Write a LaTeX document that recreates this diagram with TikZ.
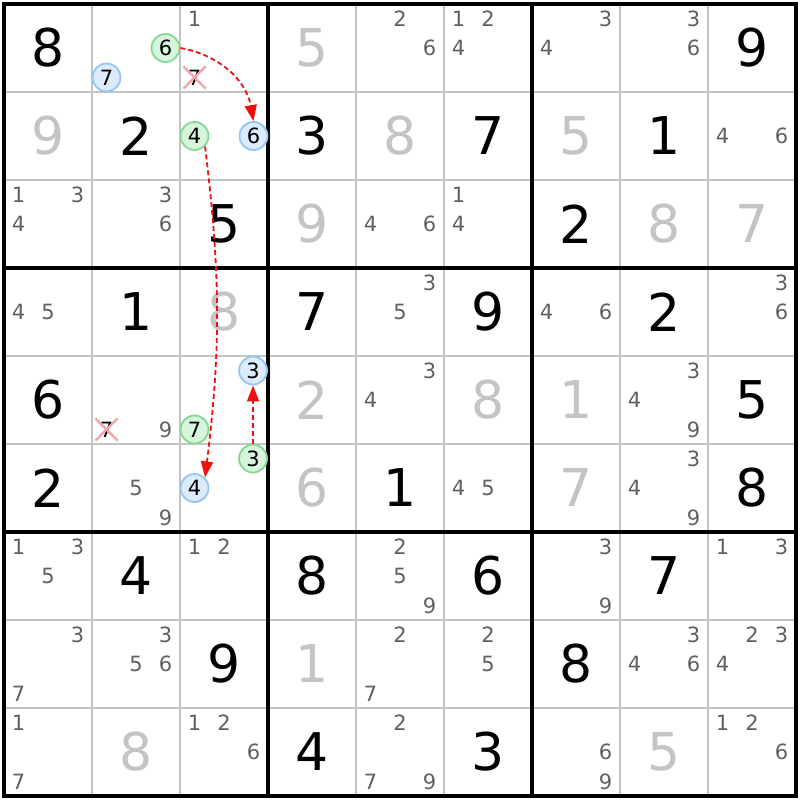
\documentclass[tikz,border=0pt]{standalone}
\usepackage{fontspec}
\setmainfont{DejaVu Sans}
\usepackage{xcolor}
\usetikzlibrary{arrows.meta, shapes.misc}
\definecolor{pale}{HTML}{C4C4C4}
\definecolor{pencil}{HTML}{606060}
\definecolor{onfill}{HTML}{D7F4DC}
\definecolor{online}{HTML}{86D694}
\definecolor{offfill}{HTML}{DCEBFD}
\definecolor{offline}{HTML}{92C6F4}
\definecolor{strike}{HTML}{F4A3AB}
\definecolor{linkred}{HTML}{F01010}

\begin{document}
\begin{tikzpicture}[x=44pt, y=44pt, >={Triangle[length=8pt, width=6pt]}]
    \tikzstyle{given} = [text=pale, font=\fontsize{26}{26}\selectfont]
    \tikzstyle{solved} = [text=black, font=\fontsize{26}{26}\selectfont]
    \tikzstyle{cand} = [text=pencil, font=\fontsize{10.5}{10.5}\selectfont]
    \tikzstyle{oncand} = [cand, text=black, circle, draw=online, fill=onfill,
        line width=0.9pt, minimum size=14pt, inner sep=0pt]
    \tikzstyle{offcand} = [oncand, draw=offline, fill=offfill]
    \tikzstyle{crossed} = [cand, text=black, cross out, draw=strike,
        line width=1.1pt, minimum size=10pt, inner sep=0pt]
    \tikzstyle{linkarrow} = [->, color=linkred, line width=0.9pt,
        dash pattern=on 2.5pt off 1.5pt]
    \useasboundingbox (-0.0455,-0.0455) rectangle (9.0455,9.0455);
    \fill[white] (-0.0455,-0.0455) rectangle (9.0455,9.0455);
    % grid
    \foreach \i in {1,2,4,5,7,8} {
        \draw[pale, line width=0.75pt] (\i,0) -- (\i,9);
        \draw[pale, line width=0.75pt] (0,\i) -- (9,\i);
    }
    \foreach \i in {3,6} {
        \draw[line width=1.6pt] (\i,0) -- (\i,9);
        \draw[line width=1.6pt] (0,\i) -- (9,\i);
    }
    \draw[line width=1.6pt] (0,0) rectangle (9,9);
    % digits
    \foreach \r/\c/\d in {1/4/5, 2/1/9, 2/5/8, 2/7/5, 3/4/9, 3/8/8, 3/9/7,
        4/3/8, 5/4/2, 5/6/8, 5/7/1, 6/4/6, 6/7/7, 8/4/1, 9/2/8, 9/8/5}
        \node[given] (g\r\c) at (\c-0.5, 9.5-\r) {\d};
    \foreach \r/\c/\d in {1/1/8, 1/9/9, 2/2/2, 2/4/3, 2/6/7, 2/8/1, 3/3/5,
        3/7/2, 4/2/1, 4/4/7, 4/6/9, 4/8/2, 5/1/6, 5/9/5, 6/1/2, 6/5/1, 6/9/8,
        7/2/4, 7/4/8, 7/6/6, 7/8/7, 8/3/9, 8/7/8, 9/4/4, 9/6/3}
        \node[solved] (s\r\c) at (\c-0.5, 9.5-\r) {\d};
    % pencil marks
    \foreach \r/\c/\d in {1/3/1, 1/5/2, 1/5/6, 1/6/1, 1/6/2, 1/6/4, 1/7/3,
        1/7/4, 1/8/3, 1/8/6, 2/9/4, 2/9/6, 3/1/1, 3/1/3, 3/1/4, 3/2/3, 3/2/6,
        3/5/4, 3/5/6, 3/6/1, 3/6/4, 4/1/4, 4/1/5, 4/5/3, 4/5/5, 4/7/4, 4/7/6,
        4/9/3, 4/9/6, 5/2/9, 5/5/3, 5/5/4, 5/8/3, 5/8/4, 5/8/9, 6/2/5, 6/2/9,
        6/6/4, 6/6/5, 6/8/3, 6/8/4, 6/8/9, 7/1/1, 7/1/3, 7/1/5, 7/3/1, 7/3/2,
        7/5/2, 7/5/5, 7/5/9, 7/7/3, 7/7/9, 7/9/1, 7/9/3, 8/1/3, 8/1/7, 8/2/3,
        8/2/5, 8/2/6, 8/5/2, 8/5/7, 8/6/2, 8/6/5, 8/8/3, 8/8/4, 8/8/6, 8/9/2,
        8/9/3, 8/9/4, 9/1/1, 9/1/7, 9/3/1, 9/3/2, 9/3/6, 9/5/2, 9/5/7, 9/5/9,
        9/7/6, 9/7/9, 9/9/1, 9/9/2, 9/9/6} {
        \pgfmathsetmacro\px{\c-0.5+0.335*(mod(\d-1,3)-1)}
        \pgfmathsetmacro\py{9.5-\r-0.335*(floor((\d-1)/3)-1)}
        \node[cand] (p\r\c\d) at (\px,\py) {\d};
    }
    % chain
    \node[oncand] (on6) at (1.835, 8.5) {6};
    \node[offcand] (off7) at (1.165, 8.165) {7};
    \node[crossed] (x7) at (2.165, 8.165) {7};
    \node[oncand] (on4) at (2.165, 7.5) {4};
    \node[offcand] (off6) at (2.835, 7.5) {6};
    \node[crossed] (xx7) at (1.165, 4.165) {7};
    \node[offcand] (off3) at (2.83, 4.835) {3};
    \node[oncand] (on7) at (2.165, 4.165) {7};
    \node[oncand] (on3) at (2.83, 3.835) {3};
    \node[offcand] (off4) at (2.165, 3.5) {4};
    \draw[linkarrow, bend left=35] (on6.east) to (off6.north);
    \draw[linkarrow, bend left=7] (on4.south east) to (off4.north east);
    \draw[linkarrow] (on3.north) -- (off3.south);
\end{tikzpicture}
\end{document}
